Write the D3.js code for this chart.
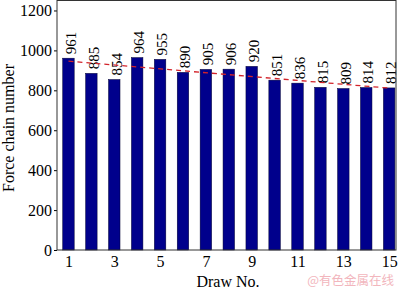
<!DOCTYPE html>
<html>
<head>
<meta charset="utf-8">
<script src="https://cdn.jsdelivr.net/npm/d3@7"></script>
<style>
  body { margin: 0; background: #fff; }
  svg { display: block; font-family: "Liberation Serif", "Times New Roman", serif; }
</style>
</head>
<body>
<svg id="canvas" width="400" height="289"></svg>
<script>
// Data
let drawNo = [1, 2, 3, 4, 5, 6, 7, 8, 9, 10, 11, 12, 13, 14, 15]
let chainCount = [961, 885, 854, 964, 955, 890, 905, 906, 920, 851, 836, 815, 809, 814, 812]
let trendEnds = [[1, 946], [15, 811]] // dashed trend line, end points
let yTicks = [0, 200, 400, 600, 800, 1000, 1200]
let xTicks = [1, 3, 5, 7, 9, 11, 13, 15]

let canvas = d3.select('#canvas')

let plotLeft = 57, plotRight = 396, plotTop = 0.5, plotBottom = 250

let x = d3.scaleLinear().domain([0.5, 15.3]).range([plotLeft, plotRight])
let y = d3.scaleLinear().domain([0, 1250]).range([plotBottom, plotTop])

let barWidth = 11.5

// bars
canvas.append('g')
    .selectAll('rect')
    .data(drawNo)
    .enter()
    .append('rect')
    .attr('x', (d) => x(d) - barWidth / 2)
    .attr('y', (d, i) => y(chainCount[i]))
    .attr('width', barWidth)
    .attr('height', (d, i) => plotBottom - y(chainCount[i]))
    .attr('fill', '#00008c')
    .style('stroke', '#000033')
    .style('stroke-width', '0.5px')

// value labels, rotated
canvas.append('g')
    .selectAll('text')
    .data(drawNo)
    .enter()
    .append('text')
    .attr('transform', (d, i) => `translate(${x(d) + 2},${y(chainCount[i]) - 4}) rotate(-90)`)
    .attr('dy', '0.35em')
    .style('font-size', '15px')
    .text((d, i) => chainCount[i])

// trend line
let line = d3.line().x((d) => x(d[0])).y((d) => y(d[1]))
canvas.append('path')
    .attr('d', line(trendEnds))
    .attr('fill', 'none')
    .style('stroke', '#d2232a')
    .style('stroke-width', '1.3px')
    .style('stroke-dasharray', '5,4')

// axes
let yAxis = d3.axisLeft(y).tickValues(yTicks).tickFormat(d3.format('d')).tickSize(3).tickPadding(2)
let gy = canvas.append('g').attr('transform', `translate(${plotLeft},0)`).call(yAxis)
gy.attr('font-family', null)
gy.select('.domain').remove()
gy.selectAll('text').style('font-size', '16px').attr('fill', '#000')

let xAxis = d3.axisBottom(x).tickValues(xTicks).tickFormat(d3.format('d')).tickSize(0).tickPadding(6)
let gx = canvas.append('g').attr('transform', `translate(0,${plotBottom})`).call(xAxis)
gx.attr('font-family', null)
gx.select('.domain').remove()
gx.selectAll('text').style('font-size', '16px').attr('fill', '#000')

// frame
canvas.append('rect')
    .attr('x', plotLeft)
    .attr('y', plotTop)
    .attr('width', plotRight - plotLeft)
    .attr('height', plotBottom - plotTop)
    .attr('fill', 'none')
    .style('stroke', '#333')
    .style('stroke-width', '1px')

// axis titles
canvas.append('text')
    .attr('transform', `translate(14,128) rotate(-90)`)
    .attr('text-anchor', 'middle')
    .style('font-size', '16px')
    .text('Force chain number')

canvas.append('text')
    .attr('x', 228)
    .attr('y', 287)
    .attr('text-anchor', 'middle')
    .style('font-size', '16px')
    .text('Draw No.')

// watermark
canvas.append('text')
    .attr('x', 394)
    .attr('y', 285)
    .attr('text-anchor', 'end')
    .style('font-family', '"Noto Sans CJK SC"')
    .style('font-size', '12.5px')
    .attr('fill', '#f2b6bd')
    .text('@有色金属在线')
</script>
</body>
</html>
